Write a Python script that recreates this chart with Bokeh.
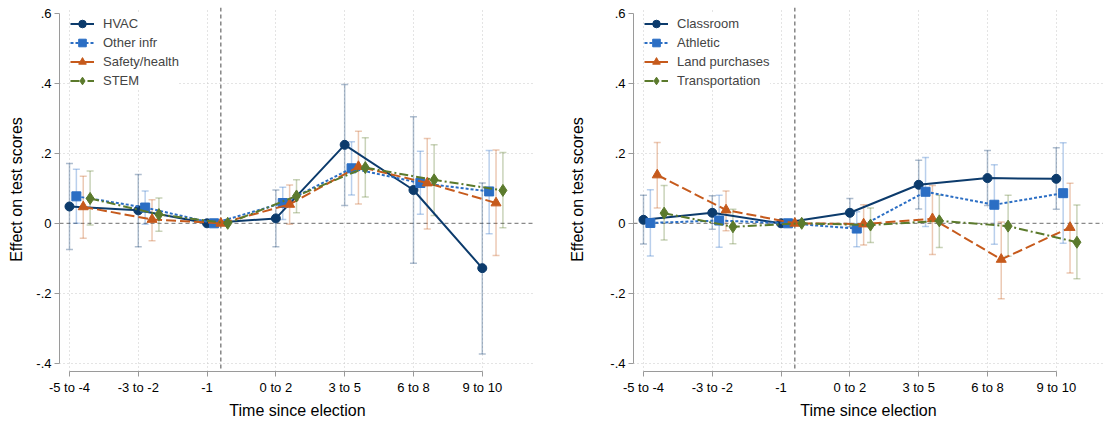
import math
from bokeh.plotting import figure
from bokeh.layouts import row
from bokeh.models import FixedTicker, Span, Legend, LegendItem, ColumnDataSource
from bokeh.embed import file_html
from bokeh.resources import INLINE

nan = float("nan")

categories = ["-5 to -4", "-3 to -2", "-1", "0 to 2", "3 to 5", "6 to 8", "9 to 10"]
y_ticks = [-0.4, -0.2, 0.0, 0.2, 0.4, 0.6]
y_tick_labels = ["-.4", "-.2", "0", ".2", ".4", ".6"]

# Left panel
hvac = [0.048, 0.037, 0.0, 0.014, 0.224, 0.095, -0.128]
hvac_lo = [-0.075, -0.067, nan, -0.067, 0.051, -0.114, -0.373]
hvac_hi = [0.171, 0.139, nan, 0.095, 0.396, 0.304, 0.115]
other = [0.077, 0.045, 0.0, 0.058, 0.157, 0.115, 0.091]
other_lo = [0.0, -0.003, nan, 0.011, 0.081, 0.026, -0.030]
other_hi = [0.154, 0.092, nan, 0.103, 0.233, 0.206, 0.208]
safety = [0.047, 0.011, 0.0, 0.054, 0.162, 0.115, 0.058]
safety_lo = [-0.043, -0.050, nan, -0.003, 0.055, -0.016, -0.092]
safety_hi = [0.134, 0.067, nan, 0.109, 0.263, 0.242, 0.209]
stem = [0.071, 0.025, 0.0, 0.078, 0.159, 0.124, 0.094]
stem_lo = [-0.005, -0.023, nan, 0.030, 0.075, 0.022, -0.013]
stem_hi = [0.149, 0.072, nan, 0.124, 0.244, 0.224, 0.202]

# Right panel
classroom = [0.010, 0.030, 0.0, 0.030, 0.110, 0.129, 0.127]
classroom_lo = [-0.059, -0.017, nan, -0.010, 0.041, 0.051, 0.040]
classroom_hi = [0.080, 0.079, nan, 0.071, 0.180, 0.208, 0.216]
athletic = [0.001, 0.008, 0.0, -0.015, 0.090, 0.053, 0.086]
athletic_lo = [-0.093, -0.068, nan, -0.067, -0.009, -0.060, -0.057]
athletic_hi = [0.096, 0.080, nan, 0.033, 0.188, 0.167, 0.230]
land = [0.138, 0.038, 0.0, -0.002, 0.013, -0.103, -0.012]
land_lo = [0.044, -0.021, nan, -0.062, -0.089, -0.215, -0.142]
land_hi = [0.231, 0.092, nan, 0.053, 0.108, 0.004, 0.114]
transport = [0.029, -0.010, 0.0, -0.005, 0.007, -0.008, -0.054]
transport_lo = [-0.048, -0.058, nan, -0.055, -0.069, -0.094, -0.158]
transport_hi = [0.108, 0.040, nan, 0.044, 0.080, 0.080, 0.052]

colors = ["#0c3b6c", "#2b6ec4", "#c65a1c", "#5b7a2c"]
markers = ["circle", "square", "triangle", "diamond"]
marker_sizes = [9, 9, 10, 12]
dashes = ["solid", "3 2", "10 4", "9 3 2 3"]
offsets = [0.0, 0.1, 0.2, 0.3]
event_line_x = 2.2

FONT = "Liberation Sans"
FH = 364


def make_panel(series, frame_width, left_border, right_border, legend_x, title_standoff):
    p = figure(frame_width=frame_width, frame_height=FH,
               x_range=(-0.145, -0.145 + frame_width / 68.8),
               y_range=(-0.423, 0.616),
               output_backend="svg", toolbar_location=None,
               min_border_left=left_border, min_border_right=right_border,
               min_border_top=7, min_border_bottom=0)
    p.outline_line_color = None
    p.background_fill_color = "white"

    # grids
    p.xgrid.ticker = FixedTicker(ticks=list(range(len(categories))))
    p.xgrid.grid_line_color = "#c8c8c8"
    p.xgrid.grid_line_dash = "1 3"
    p.ygrid.ticker = FixedTicker(ticks=[t for t in y_ticks if t != 0.0 and t < 0.59])
    p.ygrid.grid_line_color = "#c8c8c8"
    p.ygrid.grid_line_dash = "1 3"

    # axes
    p.xaxis.ticker = FixedTicker(ticks=list(range(len(categories))))
    p.xaxis.major_label_overrides = {i: c for i, c in enumerate(categories)}
    p.yaxis.ticker = FixedTicker(ticks=y_ticks)
    p.yaxis.major_label_overrides = {t: l for t, l in zip(y_ticks, y_tick_labels)}
    p.xaxis.bounds = (0, len(categories) - 1)
    p.yaxis.bounds = (min(y_ticks), max(y_ticks))
    for ax in (p.xaxis, p.yaxis):
        ax.axis_line_color = "#9a9a9a"
        ax.major_tick_line_color = "#9a9a9a"
        ax.major_tick_out = 5
        ax.major_tick_in = 0
        ax.minor_tick_line_color = None
        ax.major_label_text_font = FONT
        ax.major_label_text_font_size = "13px"
        ax.major_label_text_color = "black"
        ax.axis_label_text_font = FONT
        ax.axis_label_text_font_size = "16px"
        ax.axis_label_text_font_style = "normal"
        ax.axis_label_text_color = "black"
        ax.major_label_standoff = 3
        ax.axis_label_standoff = 4
    p.xaxis.axis_label = "Time since election"
    p.yaxis.axis_label = "Effect on test scores"
    p.yaxis.axis_label_standoff = title_standoff

    p.add_layout(Span(location=0, dimension="width", line_color="#8a8a8a",
                      line_dash="4 3", line_width=1.2, level="underlay"))
    p.add_layout(Span(location=event_line_x, dimension="height", line_color="#666666",
                      line_dash="4 3", line_width=1.2, level="underlay"))

    items = []
    # error bars first
    for k, (name, y, lo, hi) in enumerate(series):
        xs = [i + offsets[k] for i in range(len(categories))]
        xe = [x for x, l in zip(xs, lo) if not math.isnan(l)]
        le = [l for l in lo if not math.isnan(l)]
        he = [h for h in hi if not math.isnan(h)]
        src = ColumnDataSource(dict(x=xe, lo=le, hi=he))
        p.segment(x0="x", y0="lo", x1="x", y1="hi", source=src,
                  line_color=colors[k], line_alpha=0.33, line_width=1.5)
        p.scatter(x="x", y="lo", source=src, marker="dash", size=7,
                  line_color=colors[k], line_alpha=0.33, line_width=1.5)
        p.scatter(x="x", y="hi", source=src, marker="dash", size=7,
                  line_color=colors[k], line_alpha=0.33, line_width=1.5)
    for k, (name, y, lo, hi) in enumerate(series):
        xs = [i + offsets[k] for i in range(len(categories))]
        src = ColumnDataSource(dict(x=xs, y=y))
        ln = p.line(x="x", y="y", source=src, line_color=colors[k], line_width=2,
                    line_dash=dashes[k])
        sc = p.scatter(x="x", y="y", source=src, marker=markers[k], size=marker_sizes[k],
                       fill_color=colors[k], line_color=colors[k])
        items.append(LegendItem(label=name, renderers=[ln, sc]))

    legend = Legend(items=items, location=(legend_x, FH + 1 - 84),
                    label_text_font=FONT, label_text_font_size="13px",
                    label_height=19, glyph_height=19, glyph_width=24,
                    label_standoff=9, spacing=0, padding=4, margin=0,
                    border_line_color=None, background_fill_color="white",
                    background_fill_alpha=1.0)
    p.add_layout(legend, "center")
    return p


left = make_panel([("HVAC", hvac, hvac_lo, hvac_hi),
                   ("Other infr", other, other_lo, other_hi),
                   ("Safety/health", safety, safety_lo, safety_hi),
                   ("STEM", stem, stem_lo, stem_hi)],
                  frame_width=476, left_border=59, right_border=31, legend_x=11,
                  title_standoff=8)
right = make_panel([("Classroom", classroom, classroom_lo, classroom_hi),
                    ("Athletic", athletic, athletic_lo, athletic_hi),
                    ("Land purchases", land, land_lo, land_hi),
                    ("Transportation", transport, transport_lo, transport_hi)],
                   frame_width=470, left_border=67, right_border=0, legend_x=11,
                   title_standoff=21)

layout = row(left, right)
open("out.html", "w").write(file_html(layout, INLINE))
